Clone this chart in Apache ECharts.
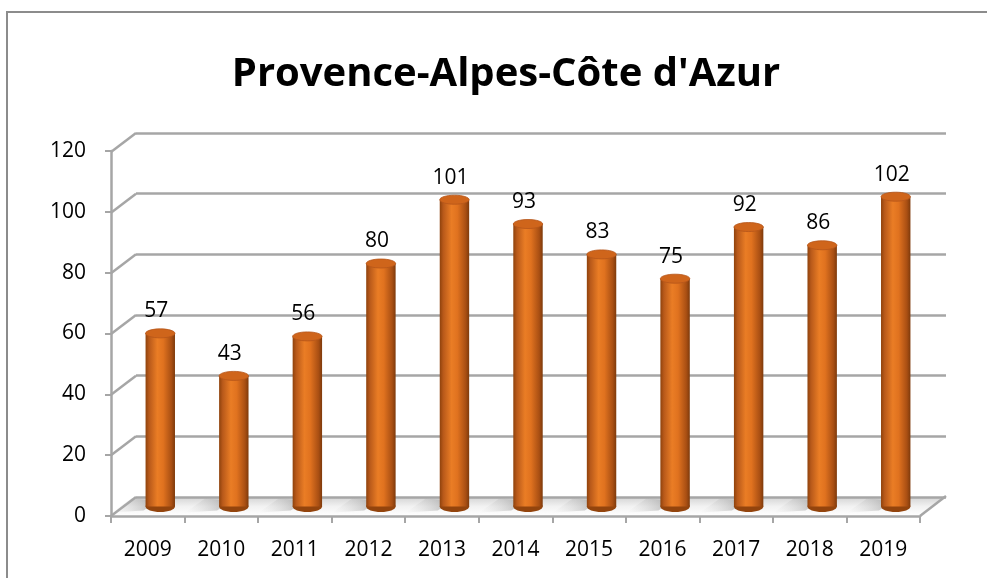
<!DOCTYPE html>
<html><head><meta charset="utf-8">
<script src="https://cdn.jsdelivr.net/npm/echarts@6/dist/echarts.min.js"></script>
<style>html,body{margin:0;padding:0;background:#fff;}#c{width:987px;height:578px;}</style>
</head><body><div id="c"></div>
<script>
const titleText = "Provence-Alpes-Côte d'Azur";
const years = ['2009','2010','2011','2012','2013','2014','2015','2016','2017','2018','2019'];
const values = [57, 43, 56, 80, 101, 93, 83, 75, 92, 86, 102];
const yTicks = [0, 20, 40, 60, 80, 100, 120];

const FONT = '"Open Sans", "Noto Sans", sans-serif';
const DX = 25, DY = 19; // depth offset of the back wall

const chart = echarts.init(document.getElementById('c'), null, {renderer: 'canvas'});

function cylinder(params, api) {
  const xi = api.value(0), v = api.value(1);
  const top = api.coord([xi, v]);
  const base = api.coord([xi, 0]);
  const band = api.size([1, 0])[0];
  const w = band * 0.4, rx = w / 2, ry = 4.5;
  const cx = top[0];
  const bodyGrad = new echarts.graphic.LinearGradient(0, 0, 1, 0, [
    {offset: 0, color: '#8f420c'},
    {offset: 0.12, color: '#b8591a'},
    {offset: 0.4, color: '#ea7d25'},
    {offset: 0.6, color: '#e0721f'},
    {offset: 0.88, color: '#a94f13'},
    {offset: 1, color: '#7e3a0b'}
  ]);
  const shadowGrad = new echarts.graphic.LinearGradient(1, 0, 0, 0, [
    {offset: 0, color: 'rgba(120,120,120,0.55)'},
    {offset: 1, color: 'rgba(200,200,200,0)'}
  ]);
  return {
    type: 'group',
    children: [
      {type: 'polygon', shape: {points: [[cx - rx - 2, base[1] + 4], [cx - rx - 34, base[1] + 6], [cx - rx - 14, base[1] - 8], [cx - 2, base[1] - 6]]},
        style: {fill: shadowGrad}, silent: true},
      {type: 'ellipse', shape: {cx: cx, cy: base[1], rx: rx, ry: ry + 1}, style: {fill: '#93440d'}},
      {type: 'rect', shape: {x: cx - rx, y: top[1], width: w, height: base[1] - top[1]}, style: {fill: bodyGrad}},
      {type: 'ellipse', shape: {cx: cx, cy: top[1], rx: rx, ry: ry}, style: {fill: '#cf651b', stroke: '#b5561a', lineWidth: 0.8}},
      {type: 'text', x: cx - 4, y: top[1] - 22, style: {text: String(v), font: '21px ' + FONT, fill: '#000', align: 'center', verticalAlign: 'middle'}}
    ]
  };
}

function jog(params, api) {
  const v = api.value(1);
  const p = api.coord([0, v]);
  return {type: 'line', shape: {x1: p[0] - DX, y1: p[1] + DY, x2: p[0], y2: p[1]},
    style: {stroke: '#a6a6a6', lineWidth: 2.5}};
}

const option = {
  animation: false,
  backgroundColor: '#ffffff',
  title: {text: titleText, left: 501, textAlign: 'center', top: 50,
    textStyle: {fontFamily: FONT, fontWeight: 'bold', fontSize: 40, color: '#000'}},
  graphic: [
    {type: 'line', shape: {x1: 7, y1: 12, x2: 7, y2: 578}, style: {stroke: '#8c8c8c', lineWidth: 2}},
    {type: 'line', shape: {x1: 6, y1: 12, x2: 987, y2: 12}, style: {stroke: '#8c8c8c', lineWidth: 2}},
    // floor
    {type: 'polygon', z: 0, shape: {points: [[111, 516], [920, 516], [945, 497], [136, 497]]},
      style: {fill: new echarts.graphic.LinearGradient(0, 0, 0, 1, [
        {offset: 0, color: '#d4d4d4'}, {offset: 0.5, color: '#f2f2f2'}, {offset: 1, color: '#ffffff'}])}},
    {type: 'line', z: 1, shape: {x1: 920, y1: 516, x2: 946, y2: 496}, style: {stroke: '#a6a6a6', lineWidth: 2.5}}
  ],
  grid: [
    {left: 111, top: 151, width: 809, height: 365},
    {left: 136, top: 133, width: 810, height: 364},
    {left: 123.5, top: 142, width: 809, height: 364.5}
  ],
  xAxis: [
    {gridIndex: 0, type: 'category', data: years, boundaryGap: true,
      axisLine: {lineStyle: {color: '#a6a6a6', width: 2.5}},
      axisTick: {show: true, length: 7, lineStyle: {color: '#a6a6a6', width: 2}},
      axisLabel: {fontFamily: FONT, fontSize: 21, color: '#000', margin: 24}},
    {gridIndex: 1, type: 'value', min: 0, max: 1, show: false},
    {gridIndex: 2, type: 'category', data: years, show: false}
  ],
  yAxis: [
    {gridIndex: 0, type: 'value', min: 0, max: 120, interval: 20,
      axisLine: {show: true, lineStyle: {color: '#a6a6a6', width: 2.5}},
      axisTick: {show: true, length: 6, lineStyle: {color: '#a6a6a6', width: 2}},
      axisLabel: {fontFamily: FONT, fontSize: 21, color: '#000', margin: 25},
      splitLine: {show: false}},
    {gridIndex: 1, type: 'value', min: 0, max: 120, interval: 20,
      axisLine: {show: false}, axisTick: {show: false}, axisLabel: {show: false},
      splitLine: {show: true, lineStyle: {color: '#a6a6a6', width: 2.5}}},
    {gridIndex: 2, type: 'value', min: 0, max: 120, show: false}
  ],
  series: [
    {type: 'custom', xAxisIndex: 1, yAxisIndex: 1, renderItem: jog, z: 1,
      data: yTicks.map(t => [0, t])},
    {type: 'custom', xAxisIndex: 2, yAxisIndex: 2, renderItem: cylinder, z: 5,
      data: values.map((v, i) => [i, v])}
  ]
};
chart.setOption(option);
</script>
</body></html>
